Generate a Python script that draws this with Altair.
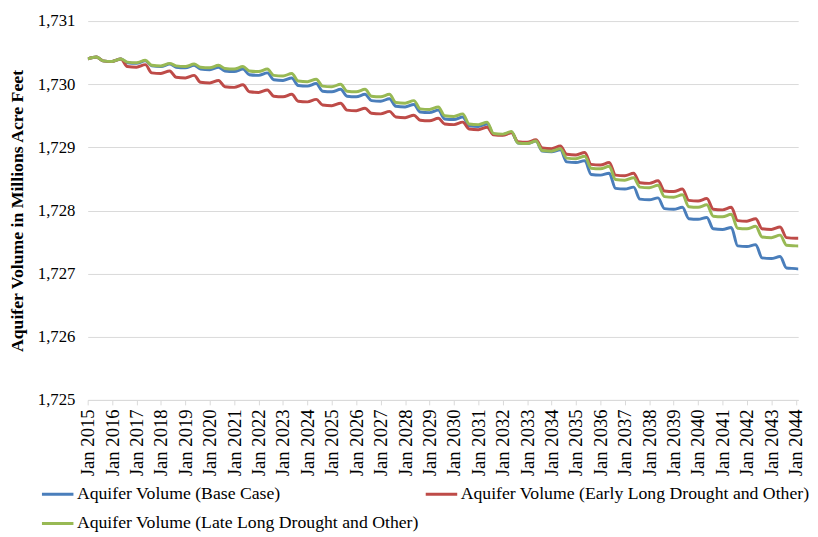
import altair as alt
import pandas as pd

series_names = [
    "Aquifer Volume (Base Case)",
    "Aquifer Volume (Early Long Drought and Other)",
    "Aquifer Volume (Late Long Drought and Other)",
]
colors = ["#4A7EBB", "#BE4B48", "#98B954"]

years = list(range(2015, 2044))  # full seasonal cycles 2015..2043

# Base case: January level, May bump, August level after the annual drop
base_jan = [1730.40, 1730.36, 1730.33, 1730.28, 1730.26, 1730.23, 1730.20, 1730.14, 1730.06, 1729.97,
            1729.88, 1729.80, 1729.73, 1729.64, 1729.55, 1729.44, 1729.33, 1729.20, 1729.06, 1728.93,
            1728.76, 1728.56, 1728.34, 1728.17, 1728.02, 1727.86, 1727.70, 1727.43, 1727.24, 1727.08]
base_may = [1730.43, 1730.40, 1730.37, 1730.32, 1730.30, 1730.27, 1730.24, 1730.18, 1730.10, 1730.01,
            1729.92, 1729.84, 1729.77, 1729.68, 1729.59, 1729.48, 1729.37, 1729.24, 1729.10, 1728.96,
            1728.79, 1728.59, 1728.37, 1728.20, 1728.05, 1727.89, 1727.73, 1727.46, 1727.27]
base_aug = [1730.37, 1730.34, 1730.29, 1730.27, 1730.24, 1730.21, 1730.15, 1730.07, 1729.98, 1729.89,
            1729.81, 1729.74, 1729.65, 1729.56, 1729.45, 1729.34, 1729.21, 1729.07, 1728.94, 1728.77,
            1728.57, 1728.35, 1728.18, 1728.03, 1727.87, 1727.71, 1727.44, 1727.25, 1727.09]
base_end = 1727.06

early_jan = [1730.40, 1730.36, 1730.27, 1730.17, 1730.10, 1730.02, 1729.95, 1729.87, 1729.80, 1729.72,
             1729.66, 1729.58, 1729.53, 1729.47, 1729.42, 1729.36, 1729.28, 1729.19, 1729.08, 1728.98,
             1728.88, 1728.72, 1728.55, 1728.43, 1728.30, 1728.15, 1728.01, 1727.83, 1727.70, 1727.56]
early_may = [1730.43, 1730.40, 1730.31, 1730.21, 1730.14, 1730.06, 1729.99, 1729.91, 1729.84, 1729.76,
             1729.70, 1729.62, 1729.57, 1729.51, 1729.46, 1729.40, 1729.32, 1729.23, 1729.12, 1729.02,
             1728.92, 1728.76, 1728.59, 1728.47, 1728.34, 1728.19, 1728.05, 1727.87, 1727.74]
early_aug = [1730.37, 1730.28, 1730.18, 1730.11, 1730.03, 1729.96, 1729.88, 1729.81, 1729.73, 1729.67,
             1729.59, 1729.54, 1729.48, 1729.43, 1729.37, 1729.29, 1729.20, 1729.09, 1728.99, 1728.89,
             1728.73, 1728.56, 1728.44, 1728.31, 1728.16, 1728.02, 1727.84, 1727.71, 1727.57]
early_end = 1727.57

late_jan = [1730.40, 1730.36, 1730.34, 1730.29, 1730.28, 1730.26, 1730.24, 1730.20, 1730.13, 1730.04,
            1729.96, 1729.88, 1729.80, 1729.70, 1729.60, 1729.49, 1729.36, 1729.21, 1729.06, 1728.94,
            1728.82, 1728.66, 1728.48, 1728.36, 1728.21, 1728.05, 1727.90, 1727.71, 1727.57, 1727.44]
late_may = [1730.43, 1730.40, 1730.38, 1730.33, 1730.32, 1730.30, 1730.28, 1730.24, 1730.17, 1730.08,
            1730.00, 1729.92, 1729.84, 1729.74, 1729.64, 1729.53, 1729.40, 1729.25, 1729.10, 1728.98,
            1728.86, 1728.70, 1728.52, 1728.40, 1728.25, 1728.09, 1727.94, 1727.75, 1727.61]
late_aug = [1730.37, 1730.35, 1730.30, 1730.29, 1730.27, 1730.25, 1730.21, 1730.14, 1730.05, 1729.97,
            1729.89, 1729.81, 1729.71, 1729.61, 1729.50, 1729.37, 1729.22, 1729.07, 1728.95, 1728.83,
            1728.67, 1728.49, 1728.37, 1728.22, 1728.06, 1727.91, 1727.72, 1727.58, 1727.45]
late_end = 1727.43

tick_years = list(range(2015, 2045))

rows = []
for k, (name, jan, may, aug, end) in enumerate([
    (series_names[0], base_jan, base_may, base_aug, base_end),
    (series_names[1], early_jan, early_may, early_aug, early_end),
    (series_names[2], late_jan, late_may, late_aug, late_end),
]):
    for i, yr in enumerate(years):
        rows.append({"series": name, "k": k, "t": yr + 0.0, "v": jan[i]})
        rows.append({"series": name, "k": k, "t": yr + 0.36, "v": may[i]})
        rows.append({"series": name, "k": k, "t": yr + 0.62, "v": aug[i]})
    rows.append({"series": name, "k": k, "t": 2044.0, "v": jan[-1]})
    rows.append({"series": name, "k": k, "t": 2044.4, "v": end})
df = pd.DataFrame(rows)

font = "Liberation Serif"

chart = alt.Chart(df).mark_line(strokeWidth=3, clip=True, interpolate="monotone").encode(
    x=alt.X("t:Q",
            scale=alt.Scale(domain=[2015, 2044.1], nice=False, zero=False),
            axis=alt.Axis(values=tick_years, labelExpr="'Jan ' + datum.value", format="d",
                          labelAngle=-90, labelFontSize=19, labelFont=font, labelColor="#000000",
                          grid=False, ticks=True, tickSize=5, tickColor="#D9D9D9",
                          domainColor="#D9D9D9", labelPadding=4, title=None, labelOverlap=False)),
    y=alt.Y("v:Q",
            scale=alt.Scale(domain=[1725, 1731], nice=False, zero=False),
            axis=alt.Axis(values=[1725, 1726, 1727, 1728, 1729, 1730, 1731], format=",d",
                          labelFontSize=17, labelFont=font, labelColor="#000000",
                          grid=True, gridColor="#D9D9D9", domain=False, ticks=False,
                          labelPadding=13, title="Aquifer Volume in Millions Acre Feet",
                          titleFont=font, titleFontSize=18, titleFontWeight="bold",
                          titleColor="#000000", titlePadding=11)),
    color=alt.Color("series:N",
                    scale=alt.Scale(domain=series_names, range=colors),
                    legend=alt.Legend(title=None, orient="none", legendX=-48, legendY=463,
                                      columns=2, direction="horizontal",
                                      symbolType="stroke", symbolSize=1024, symbolStrokeWidth=3,
                                      labelFont=font, labelFontSize=18, labelColor="#000000",
                                      labelOffset=2, columnPadding=0, rowPadding=3,
                                      labelLimit=500)),
    order=alt.Order("t:Q"),
    detail="k:N",
).properties(
    width=722, height=385, padding=0,
).configure(
    font=font,
).configure_view(stroke=None)

chart.save("out.html", embed_options={"renderer": "svg", "actions": False})
